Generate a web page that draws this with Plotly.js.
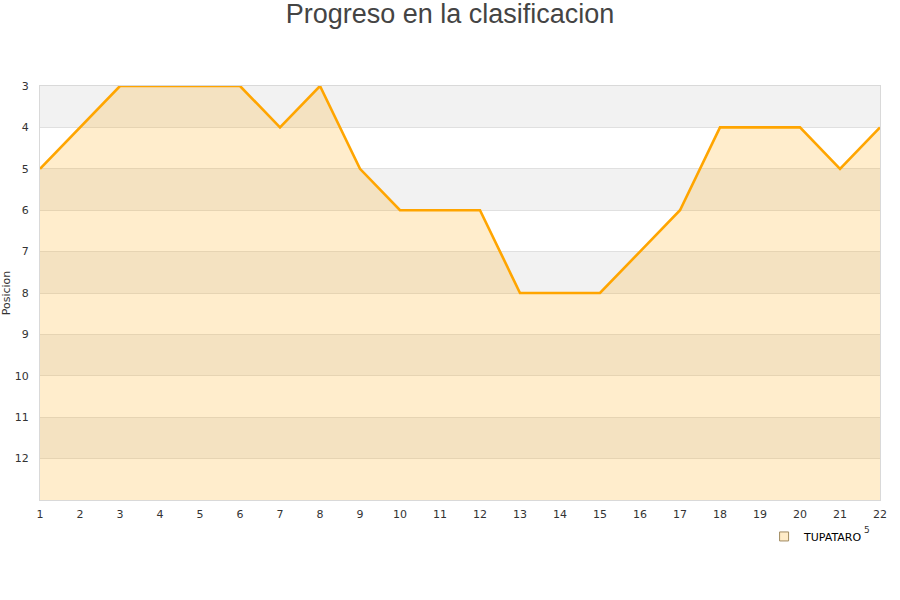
<!DOCTYPE html>
<html>
<head>
<meta charset="utf-8">
<script src="https://cdn.plot.ly/plotly-3.0.1.min.js"></script>
<style>html,body{margin:0;padding:0;background:#fff;}#chart{width:900px;height:600px;}</style>
</head>
<body>
<div id="chart"></div>
<script>
const jornadas = [1,2,3,4,5,6,7,8,9,10,11,12,13,14,15,16,17,18,19,20,21,22];
const posicion = [5,4,3,3,3,3,4,3,5,6,6,6,8,8,8,7,6,4,4,4,5,4];
const teamName = "TUPATARO";
const yTicks = [3,4,5,6,7,8,9,10,11,12];
const bandStarts = [3,5,7,9,11];
const yBottom = 13;

const shapes = bandStarts.map(b => ({
  type: 'rect', xref: 'paper', yref: 'y', x0: 0, x1: 1, y0: b, y1: b + 1,
  fillcolor: '#f2f2f2', line: {width: 0}, layer: 'below'
}));

const fx = [jornadas[0]].concat(jornadas, [jornadas[jornadas.length-1]]);
const fy = [yBottom].concat(posicion, [yBottom]);

const traces = [
  {
    x: fx, y: fy, type: 'scatter', mode: 'lines',
    line: {color: 'rgba(0,0,0,0)', width: 0},
    fill: 'toself', fillcolor: 'rgba(255,165,0,0.2)',
    showlegend: false
  },
  {
    x: jornadas, y: posicion, type: 'scatter', mode: 'lines',
    line: {color: '#ffa500', width: 2.6}, showlegend: false
  },
  {
    x: [null], y: [null], type: 'scatter', mode: 'markers', name: teamName,
    marker: {symbol: 'square', size: 9, color: '#ffecc8', line: {color: '#a08a60', width: 1}},
    showlegend: true
  }
];

const layout = {
  width: 900, height: 600,
  margin: {l: 40, r: 20, t: 86, b: 100},
  paper_bgcolor: '#ffffff', plot_bgcolor: '#ffffff',
  title: {text: 'Progreso en la clasificacion', x: 0.5, xanchor: 'center', y: 0.993, yanchor: 'top',
    font: {family: 'Liberation Sans, Arial, sans-serif', size: 27, color: '#444444'}},
  font: {family: 'DejaVu Sans', size: 11, color: '#333333'},
  xaxis: {
    range: [1, 22], tickmode: 'array', tickvals: jornadas, ticktext: jornadas.map(String),
    showgrid: false, zeroline: false, showline: true, linecolor: '#d9d9d9', mirror: true,
    ticks: '', ticklabelstandoff: 4,
    tickfont: {family: 'DejaVu Sans', size: 11, color: '#333333'}
  },
  yaxis: {
    range: [yBottom, 3], tickmode: 'array', tickvals: yTicks, ticktext: yTicks.map(String),
    showgrid: true, gridcolor: '#e0e0e0', gridwidth: 1, zeroline: false,
    showline: true, linecolor: '#d9d9d9', mirror: true, ticks: '', ticklabelstandoff: 8,
    tickfont: {family: 'DejaVu Sans', size: 11, color: '#333333'},
    title: {text: 'Posicion', font: {family: 'DejaVu Sans', size: 11, color: '#333333'}, standoff: 6}
  },
  shapes: shapes,
  showlegend: true,
  legend: {x: 0.862, xanchor: 'left', y: -0.053, yanchor: 'top', orientation: 'h',
    font: {family: 'DejaVu Sans', size: 11, color: '#000000'}, bgcolor: 'rgba(0,0,0,0)'},
  annotations: [{xref: 'paper', yref: 'paper', x: 0.9845, y: -0.073, xanchor: 'center', yanchor: 'middle',
    text: '5', showarrow: false, font: {family: 'DejaVu Sans', size: 9, color: '#333333'}}]
};

Plotly.newPlot('chart', traces, layout, {displayModeBar: false, staticPlot: true});
</script>
</body>
</html>
